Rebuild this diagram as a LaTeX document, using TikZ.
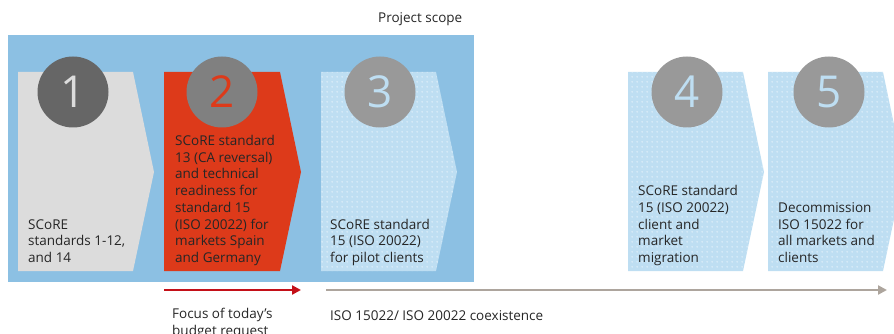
\documentclass[tikz,border=0pt]{standalone}
\usepackage{fontspec}
\setmainfont{Open Sans}
\usetikzlibrary{arrows.meta, patterns}

\definecolor{scopeblue}{RGB}{140,192,227}
\definecolor{phasegrey}{RGB}{220,220,220}
\definecolor{phasered}{RGB}{221,58,26}
\definecolor{paleblue}{RGB}{190,222,242}
\definecolor{discdark}{RGB}{102,102,102}
\definecolor{discmid}{RGB}{128,128,128}
\definecolor{disclight}{RGB}{153,153,153}
\definecolor{arrowred}{RGB}{196,16,24}
\definecolor{arrowtaupe}{RGB}{173,165,157}
\definecolor{textdark}{RGB}{38,38,38}

\pgfdeclarepatternformonly{whitedots}{\pgfqpoint{0pt}{0pt}}{\pgfqpoint{5pt}{5pt}}{\pgfqpoint{5pt}{5pt}}{%
  \pgfpathcircle{\pgfqpoint{2.5pt}{2.5pt}}{0.75pt}\pgfusepath{fill}}

\tikzset{
  dotted phase/.style = {preaction = {fill = paleblue}, pattern = whitedots, pattern color = white},
  num disc/.style = {circle, minimum size = 71pt, inner sep = 0, font = \fontsize{44}{44}\selectfont},
  phase text/.style = {anchor = base west, align = left, inner sep = 0, text = textdark,
    font = \fontsize{13.5}{16.7}\selectfont},
  time arrow/.style = {line width = 2.5pt, -{Triangle[length = 9pt, width = 9pt]}}
}

\begin{document}
\begin{tikzpicture}[x = 1pt, y = -1pt]
\path[use as bounding box] (0, 0) rectangle (894, 334);
\clip (0, 0) rectangle (894, 334);
\fill[scopeblue] (8, 35) rectangle (474, 282);
\node[phase text] (scope) at (378, 23) {Project scope};
% phase chevrons
\fill[phasegrey] (18, 72) -- (133, 72) -- (154, 172) -- (133, 271) -- (18, 271) -- cycle;
\fill[phasered] (164, 72) -- (280, 72) -- (301, 172) -- (280, 271) -- (164, 271) -- cycle;
\fill[dotted phase] (321, 72) -- (436, 72) -- (457, 172) -- (436, 271) -- (321, 271) -- cycle;
\fill[dotted phase] (628, 72) -- (743, 72) -- (764, 172) -- (743, 271) -- (628, 271) -- cycle;
\fill[dotted phase] (768, 72) -- (883, 72) -- (904, 172) -- (883, 271) -- (768, 271) -- cycle;
% number discs
\node[num disc, fill = discdark, text = phasegrey] (n1) at (73, 92) {1};
\node[num disc, fill = discmid, text = phasered] (n2) at (222, 92) {2};
\node[num disc, fill = disclight, text = paleblue] (n3) at (380, 92) {3};
\node[num disc, fill = disclight, text = paleblue] (n4) at (687, 92) {4};
\node[num disc, fill = disclight, text = paleblue] (n5) at (829, 92) {5};
% phase texts (base = last line)
\node[phase text] (t1) at (28, 262.4) {SCoRE\\standards 1-12,\\and 14};
\node[phase text] (t2) at (175, 262.4) {SCoRE standard\\13 (CA reversal)\\and technical\\readiness for\\standard 15\\(ISO 20022) for\\markets Spain\\and Germany};
\node[phase text] (t3) at (330, 262.4) {SCoRE standard\\15 (ISO 20022)\\for pilot clients};
\node[phase text] (t4) at (638, 262.4) {SCoRE standard\\15 (ISO 20022)\\client and\\market\\migration};
\node[phase text] (t5) at (778, 262.4) {Decommission\\ISO 15022 for\\all markets and\\clients};
% timelines
\coordinate (focus start) at (164, 290);
\coordinate (focus end) at (301, 290);
\coordinate (coex start) at (326, 290);
\coordinate (coex end) at (887, 290);
\draw[time arrow, arrowred] (focus start) -- (focus end);
\draw[time arrow, arrowtaupe] (coex start) -- (coex end);
\node[phase text] (focus) at (172, 335) {Focus of today's\\budget request};
\node[phase text] (coex) at (330, 320) {ISO 15022/ ISO 20022 coexistence};
\end{tikzpicture}
\end{document}
